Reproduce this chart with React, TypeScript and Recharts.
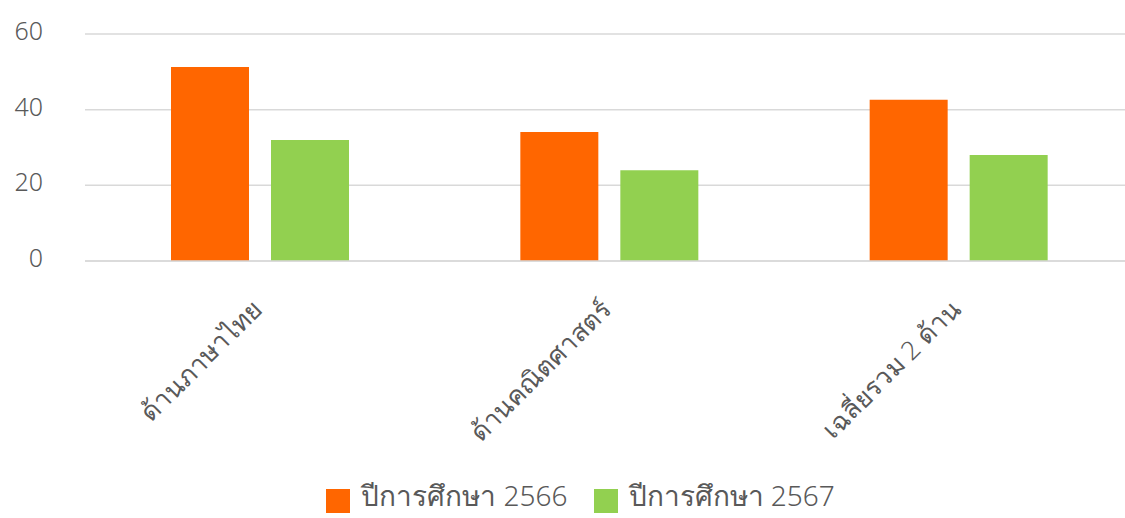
import { Bar, BarChart, CartesianGrid, Legend, XAxis, YAxis } from 'recharts';

const categories = ['ด้านภาษาไทย', 'ด้านคณิตศาสตร์', 'เฉลี่ยรวม 2 ด้าน'];
const year2566 = [51.3, 34.1, 42.6];
const year2567 = [32.0, 24.0, 28.0];
const yTicks = [0, 20, 40, 60];

const series = [
  { key: 'y2566', name: 'ปีการศึกษา 2566', color: '#FF6600' },
  { key: 'y2567', name: 'ปีการศึกษา 2567', color: '#92D050' },
];

const data = categories.map((name, i) => ({
  name,
  y2566: year2566[i],
  y2567: year2567[i],
}));

const FONT = "'Noto Sans', 'Open Sans', sans-serif";
const TEXT = '#595959';

function AngledTick({ x, y, payload }: any) {
  return (
    <g transform={`translate(${x + 4},${y + 42})`}>
      <text
        x={0}
        y={0}
        textAnchor='end'
        transform='rotate(-45)'
        fill={TEXT}
        fontSize={26}
        fontWeight={300}
        fontFamily={FONT}
      >
        {payload.value}
      </text>
    </g>
  );
}

function LegendBox() {
  return (
    <div
      style={{
        display: 'flex',
        justifyContent: 'center',
        alignItems: 'flex-end',
        height: 40,
        paddingLeft: 36,
        gap: 26,
        fontFamily: FONT,
        fontWeight: 300,
        color: TEXT,
        fontSize: 28,
      }}
    >
      {series.map((s) => (
        <div key={s.key} style={{ display: 'flex', alignItems: 'flex-end' }}>
          <span
            style={{
              width: 24,
              height: 24,
              background: s.color,
              display: 'inline-block',
              marginRight: 11,
              marginBottom: 5,
            }}
          />
          <span style={{ lineHeight: 'normal' }}>{s.name}</span>
        </div>
      ))}
    </div>
  );
}

export default function App() {
  return (
    <div style={{ position: 'absolute', left: 0, top: 0, width: 1125, height: 518, background: '#fff', overflow: 'hidden' }}>
      <BarChart
        width={1125}
        height={518}
        data={data}
        margin={{ top: 34, right: -8, bottom: 0, left: 0 }}
        barSize={78}
        barGap={22}
      >
        <CartesianGrid vertical={false} stroke='#D9D9D9' strokeWidth={1.5} />
        <XAxis
          dataKey='name'
          height={217}
          interval={0}
          tickLine={false}
          axisLine={{ stroke: '#D9D9D9', strokeWidth: 1.5 }}
          tick={<AngledTick />}
        />
        <YAxis
          width={85}
          domain={[0, 60]}
          ticks={yTicks}
          tickLine={false}
          axisLine={false}
          tickMargin={36}
          tick={{ fontSize: 25, fontWeight: 300, fill: TEXT, fontFamily: FONT, dy: -3 }}
        />
        <Legend
          verticalAlign='bottom'
          wrapperStyle={{ bottom: 0, left: 0, width: 1125, height: 40 }}
          content={<LegendBox />}
        />
        {series.map((s) => (
          <Bar
            key={s.key}
            dataKey={s.key}
            name={s.name}
            fill={s.color}
            isAnimationActive={false}
          />
        ))}
      </BarChart>
    </div>
  );
}
